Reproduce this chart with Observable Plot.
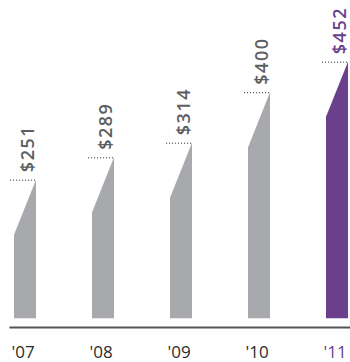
<!DOCTYPE html>
<html>
<head>
<meta charset="utf-8">
<script src="https://cdn.jsdelivr.net/npm/d3@7"></script>
<script src="https://cdn.jsdelivr.net/npm/@observablehq/plot@0.6"></script>
<style>
  html, body { margin: 0; padding: 0; background: #fff; }
  #chart svg { display: block; }
  .vlab text { letter-spacing: 1.5px; }
</style>
</head>
<body>
<div id="chart"></div>
<script>
const years = ["'07", "'08", "'09", "'10", "'11"];
const values = [251, 289, 314, 400, 452];
const valueLabels = ["$251", "$289", "$314", "$400", "$452"];
const highlight = [false, false, false, false, true];

const gray = "#a7a9ac";
const purple = "#6a3f8c";
const labelGray = "#5d5e61";
const tickDark = "#2b2b2b";

const halfW = 0.141;   // half bar width in x units
const slant = 94;      // drop of the bar's left corner, in value units
const gap = 15;        // white gap between bar foot and axis, in value units

const rows = values.map((v, i) => ({ i, v, year: years[i], label: valueLabels[i], hl: highlight[i] }));
const shape = rows.flatMap(d => [
  { i: d.i, x: d.i - halfW, top: d.v - slant, hl: d.hl },
  { i: d.i, x: d.i + halfW, top: d.v, hl: d.hl }
]);

const chart = Plot.plot({
  width: 350,
  height: 362,
  marginLeft: 25,
  marginRight: 13,
  marginTop: 20,
  marginBottom: 35,
  x: { domain: [0, 4], axis: null },
  y: { domain: [0, 523], axis: null },
  style: { fontFamily: "'Open Sans', sans-serif" },
  marks: [
    Plot.areaY(shape, { x: "x", y1: gap, y2: "top", z: "i", fill: d => d.hl ? purple : gray, curve: "linear" }),
    Plot.ruleY(rows, { y: "v", x1: d => d.i - halfW - 0.05, x2: d => d.i + halfW + 0.013, stroke: "#222", strokeWidth: 1, strokeDasharray: "1,2" }),
    Plot.text(rows, { x: d => d.i + 0.03, y: "v", text: "label", rotate: -90, textAnchor: "start", dy: -8, fontSize: 18, fontWeight: 600, fill: d => d.hl ? purple : labelGray, className: "vlab" }),
    Plot.ruleY([0], { x1: -0.2, x2: 4.3, stroke: "#555", strokeWidth: 2 }),
    Plot.text(rows, { x: d => d.i - 0.03, y: 0, text: "year", dy: 25, fontSize: 17, fill: d => d.hl ? purple : tickDark })
  ]
});
document.getElementById("chart").appendChild(chart);
</script>
</body>
</html>
